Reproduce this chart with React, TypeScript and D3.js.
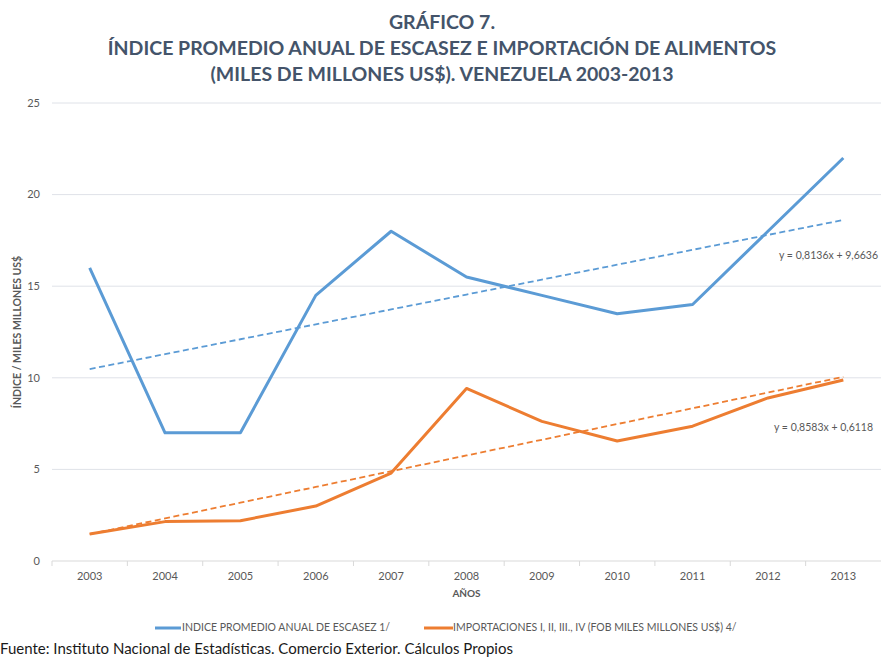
import { useEffect } from "react";
import * as d3 from "d3";

const years = ["2003", "2004", "2005", "2006", "2007", "2008", "2009", "2010", "2011", "2012", "2013"];
const escasez = [16, 7, 7, 14.5, 18, 15.5, 14.5, 13.5, 14, 18, 22];
const importaciones = [1.47, 2.15, 2.2, 3.0, 4.8, 9.42, 7.62, 6.55, 7.36, 8.9, 9.88];
const yTicks = [0, 5, 10, 15, 20, 25];
const titleLines = [
  "GRÁFICO 7.",
  "ÍNDICE PROMEDIO ANUAL DE ESCASEZ E IMPORTACIÓN DE ALIMENTOS",
  "(MILES DE MILLONES US$). VENEZUELA 2003-2013",
];
const legendLabels = [
  "INDICE PROMEDIO ANUAL DE ESCASEZ 1/",
  "IMPORTACIONES I, II, III., IV (FOB MILES MILLONES  US$) 4/",
];
const equations = ["y = 0,8136x + 9,6636", "y = 0,8583x + 0,6118"];

const FONT = "Lato, Carlito, 'Open Sans', sans-serif";
const BLUE = "#5b9bd5";
const ORANGE = "#ed7d31";
const TEXT = "#595959";
const GRID = "#dfe2e8";

// least squares fit over x = 1..n, like Excel's linear trendline
const trend = (vals: number[]) => {
  const xs = vals.map((_, i) => i + 1);
  const mx = d3.mean(xs) as number;
  const my = d3.mean(vals) as number;
  const slope =
    (d3.sum(xs, (x, i) => (x - mx) * (vals[i] - my)) as number) /
    (d3.sum(xs, (x) => (x - mx) ** 2) as number);
  const b = my - slope * mx;
  return xs.map((x) => slope * x + b);
};

const App = () => {
  useEffect(() => {
    document.body.style.margin = "0";
  }, []);

  const left = 52;
  const right = 881;
  const top = 103;
  const bottom = 561;

  const x = d3.scaleBand().domain(years).range([left, right]);
  const y = d3.scaleLinear().domain([0, 25]).range([bottom, top]);
  const cx = (d: string) => (x(d) as number) + x.bandwidth() / 2;

  const line = d3
    .line<number>()
    .x((_, i) => cx(years[i]))
    .y((d) => y(d));

  const series = [
    { vals: escasez, color: BLUE },
    { vals: importaciones, color: ORANGE },
  ];

  return (
    <svg width={881} height={660} style={{ display: "block", background: "#fff" }} fontFamily={FONT}>
      {titleLines.map((t, i) => (
        <text
          key={t}
          x={442}
          y={29 + i * 26}
          textAnchor="middle"
          fontSize={19.5}
          fontWeight="bold"
          fill="#44546a"
        >
          {t}
        </text>
      ))}

      {yTicks.map((t) => (
        <g key={t}>
          {t > 0 && <line x1={left} x2={right} y1={y(t)} y2={y(t)} stroke={GRID} strokeWidth={1} />}
          <text x={40} y={y(t)} dy="0.35em" textAnchor="end" fontSize={11} fill={TEXT}>
            {t}
          </text>
        </g>
      ))}

      <line x1={left} x2={right} y1={bottom} y2={bottom} stroke="#d9d9d9" strokeWidth={1} />
      {years.map((yr) => (
        <line key={"t" + yr} x1={x(yr)} x2={x(yr)} y1={bottom} y2={bottom + 5} stroke="#d9d9d9" />
      ))}
      {years.map((yr) => (
        <text key={yr} x={cx(yr)} y={580} textAnchor="middle" fontSize={11} fill={TEXT}>
          {yr}
        </text>
      ))}
      <text x={(left + right) / 2} y={597} textAnchor="middle" fontSize={10} fontWeight="bold" fill={TEXT}>
        AÑOS
      </text>

      <text
        transform={`translate(21,${(top + bottom) / 2}) rotate(-90)`}
        textAnchor="middle"
        fontSize={10.5}
        fontWeight="bold"
        fill={TEXT}
      >
        ÍNDICE / MILES MILLONES US$
      </text>

      {series.map((s) => (
        <path
          key={"tr" + s.color}
          d={line(trend(s.vals)) as string}
          fill="none"
          stroke={s.color}
          strokeWidth={1.8}
          strokeDasharray="6,3.5"
        />
      ))}
      {series.map((s) => (
        <path
          key={"ln" + s.color}
          d={line(s.vals) as string}
          fill="none"
          stroke={s.color}
          strokeWidth={3}
          strokeLinejoin="round"
        />
      ))}

      <text x={878} y={255} dy="0.35em" textAnchor="end" fontSize={10.5} fill={TEXT}>
        {equations[0]}
      </text>
      <text x={873} y={427} dy="0.35em" textAnchor="end" fontSize={10.5} fill={TEXT}>
        {equations[1]}
      </text>

      <line x1={155} x2={181} y1={628} y2={628} stroke={BLUE} strokeWidth={3} />
      <text x={182} y={627} dy="0.35em" fontSize={10.5} fill={TEXT}>
        {legendLabels[0]}
      </text>
      <line x1={424} x2={453} y1={628} y2={628} stroke={ORANGE} strokeWidth={3} />
      <text x={453} y={627} dy="0.35em" fontSize={10.5} fill={TEXT}>
        {legendLabels[1]}
      </text>

      <text x={0} y={654} fontSize={15} fill="#1a1a1a">
        Fuente: Instituto Nacional de Estadísticas. Comercio Exterior. Cálculos Propios
      </text>
    </svg>
  );
};

export default App;
